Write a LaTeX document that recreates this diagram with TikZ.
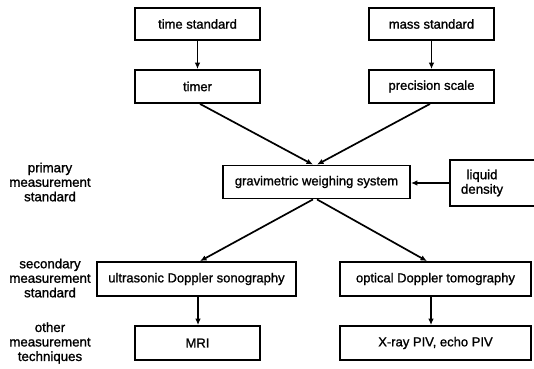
\documentclass[tikz,border=0pt]{standalone}
\usepackage{fontspec}
\setmainfont{Liberation Sans}
\newfontfamily\heavyfont[FakeBold=1.2]{Liberation Sans}
\usetikzlibrary{arrows.meta}
\begin{document}
\begin{tikzpicture}[x=1pt,y=-1pt,
  box/.style={draw=black, line width=1.8pt, inner sep=0pt, font=\heavyfont\fontsize{13}{15}\selectfont},
  lbl/.style={align=center, inner sep=0pt, font=\heavyfont\fontsize{13.3}{14.5}\selectfont},
  arr/.style={line width=1.7pt, -{Latex[length=6.5pt,width=5.5pt]}}]
\useasboundingbox (0,0) rectangle (534,368);
\clip (0,0) rectangle (534,368);
\node[box, minimum width=125, minimum height=32] (ts) at (197.5,24) {time standard};
\node[box, minimum width=125, minimum height=32] (ms) at (431.5,24) {mass standard};
\node[box, minimum width=125, minimum height=33] (timer) at (197.5,86.5) {timer};
\node[box, minimum width=125, minimum height=33] (ps) at (431.5,86.5) {precision scale};
\node[box, minimum width=187, minimum height=33] (gw) at (316.5,182) {gravimetric weighing system};
\node[box, minimum width=95, minimum height=46, anchor=west] (ld) at (449,183) {};
\node[lbl] (ldt) at (482,183) {liquid\\density};
\node[box, minimum width=199, minimum height=34] (us) at (196.5,279) {ultrasonic Doppler sonography};
\node[box, minimum width=191, minimum height=34] (od) at (435.5,279) {optical Doppler tomography};
\node[box, minimum width=125, minimum height=34] (mri) at (197.5,343) {MRI};
\node[box, minimum width=191, minimum height=34] (xr) at (435.5,343) {X-ray PIV, echo PIV};
\node[lbl] (l1) at (50,182) {primary\\measurement\\standard};
\node[lbl] (l2) at (50,278) {secondary\\measurement\\standard};
\node[lbl] (l3) at (50,343) {other\\measurement\\techniques};
\draw[arr] (ts.south) -- (timer.north);
\draw[arr] (ms.south) -- (ps.north);
\draw[arr] ([xshift=2.5pt]timer.south) -- ([xshift=-3.5pt]gw.north);
\draw[arr] ([xshift=-1.5pt]ps.south) -- ([xshift=0.5pt]gw.north);
\draw[arr] ([xshift=-3.5pt]gw.south) -- ([xshift=3.5pt]us.north);
\draw[arr] ([xshift=0.5pt]gw.south) -- ([xshift=-8.5pt]od.north);
\draw[arr] (ld.west) -- (gw.east |- ld.west);
\draw[arr] ([xshift=1.5pt]us.south) -- ([xshift=1.5pt]us.south |- mri.north);
\draw[arr] ([xshift=-4.5pt]od.south) -- ([xshift=-4.5pt]od.south |- xr.north);
\end{tikzpicture}
\end{document}
